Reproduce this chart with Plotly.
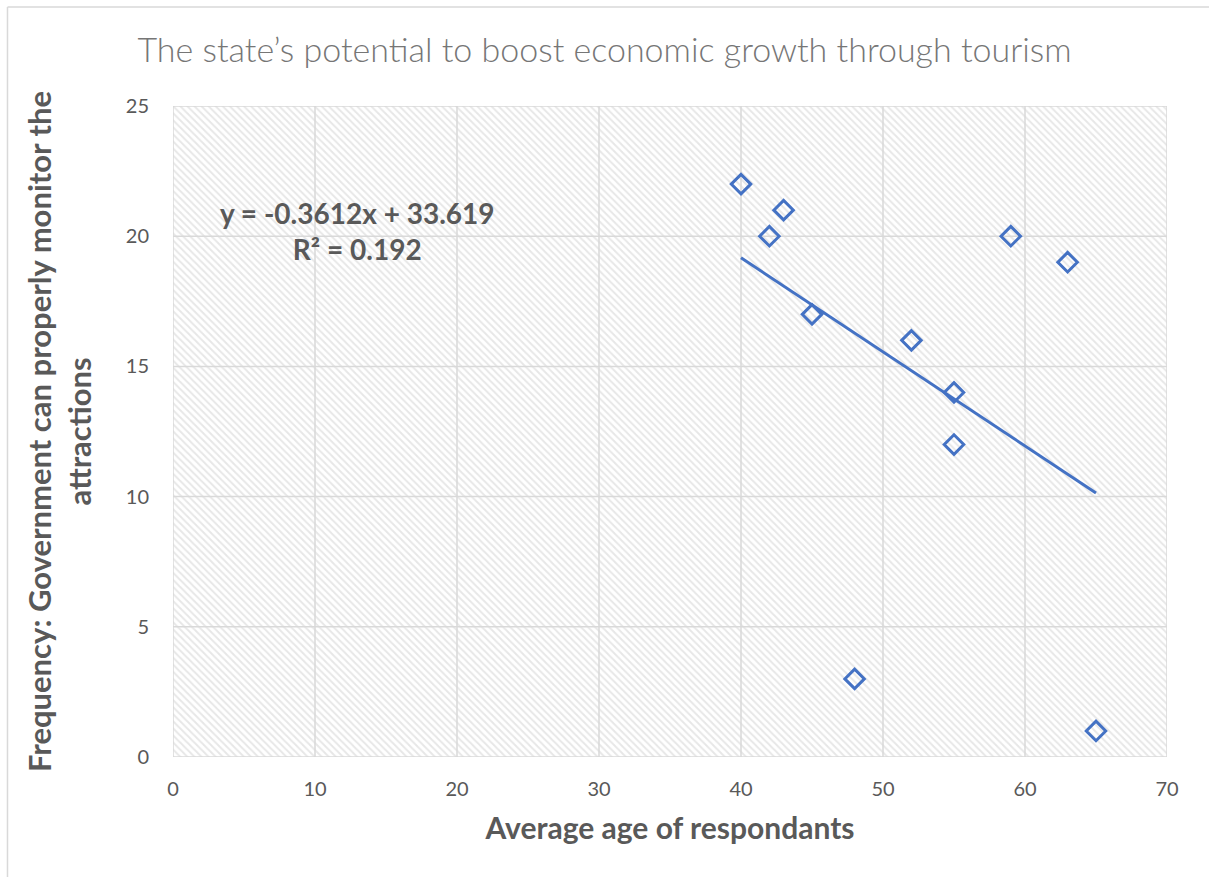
import numpy as np
import plotly.graph_objects as go

# Survey data: average respondent age vs. frequency of agreement
ages = [40, 42, 43, 45, 48, 52, 55, 55, 59, 63, 65]
frequency = [22, 20, 21, 17, 3, 16, 14, 12, 20, 19, 1]

x_ticks = [0, 10, 20, 30, 40, 50, 60, 70]
y_ticks = [0, 5, 10, 15, 20, 25]

title_text = "The state’s potential to boost economic growth through tourism"
x_title = "Average age of respondants"
y_title = "Frequency: Government can properly monitor the<br>attractions"

BLUE = "#4472C4"
GRID = "#d9d9d9"
TEXT = "#595959"
FONT = "Lato, 'Open Sans', sans-serif"

# Linear least-squares trendline
slope, intercept = np.polyfit(ages, frequency, 1)
pred = np.polyval([slope, intercept], ages)
ss_res = np.sum((np.array(frequency) - pred) ** 2)
ss_tot = np.sum((np.array(frequency) - np.mean(frequency)) ** 2)
r2 = 1 - ss_res / ss_tot
trend_x = [min(ages), max(ages)]
trend_y = [slope * v + intercept for v in trend_x]

x0, x1 = x_ticks[0], x_ticks[-1]
y0, y1 = y_ticks[0], y_ticks[-1]

fig = go.Figure()

# Hatched plot-area background
fig.add_trace(go.Scatter(
    x=[x0, x1, x1, x0, x0], y=[y0, y0, y1, y1, y0],
    mode="lines", line=dict(width=0), fill="toself",
    fillcolor="white",
    fillpattern=dict(shape="\\", fgcolor="#d0d0d0", bgcolor="white",
                     size=5, solidity=0.4),
    hoverinfo="skip", showlegend=False,
))

# Gridlines drawn over the hatching
gx, gy = [], []
for t in x_ticks:
    gx += [t, t, None]
    gy += [y0, y1, None]
for t in y_ticks:
    gx += [x0, x1, None]
    gy += [t, t, None]
fig.add_trace(go.Scatter(
    x=gx, y=gy, mode="lines", line=dict(color=GRID, width=1.5),
    hoverinfo="skip", showlegend=False,
))

# Trendline
fig.add_trace(go.Scatter(
    x=trend_x, y=trend_y, mode="lines",
    line=dict(color=BLUE, width=3), showlegend=False,
))

# Data points
fig.add_trace(go.Scatter(
    x=ages, y=frequency, mode="markers",
    marker=dict(symbol="diamond-open", size=15, color=BLUE,
                line=dict(color=BLUE, width=3)),
    showlegend=False,
))

fig.add_annotation(
    x=13, y=20.2, xref="x", yref="y",
    text=f"<b>y = {slope:.4f}x + {intercept:.3f}<br>R² = {r2:.3f}</b>",
    showarrow=False, align="center",
    font=dict(family=FONT, size=28, color=TEXT),
)

# Chart frame (top and left edges visible)
fig.add_shape(type="line", xref="paper", yref="paper",
              x0=-0.1665, x1=1.2, y0=1.152, y1=1.152,
              line=dict(color=GRID, width=1.5))
fig.add_shape(type="line", xref="paper", yref="paper",
              x0=-0.1665, x1=-0.1665, y0=-0.3, y1=1.152,
              line=dict(color=GRID, width=1.5))

fig.update_layout(
    width=1209, height=877,
    margin=dict(l=173, r=42, t=106, b=120),
    paper_bgcolor="white", plot_bgcolor="white",
    title=dict(text=title_text, x=0.5, xref="container", xanchor="center",
               y=1 - 50 / 877, yanchor="middle",
               font=dict(family=FONT, size=34, color="#767676", weight=300)),
    font=dict(family=FONT, color=TEXT),
)
fig.update_xaxes(
    range=[x0, x1], tickvals=x_ticks, showgrid=False, zeroline=False,
    showline=False, ticks="", ticklabelstandoff=18,
    tickfont=dict(family=FONT, size=20, color=TEXT),
    title=dict(text=f"<b>{x_title}</b>", standoff=18,
               font=dict(family=FONT, size=30, color=TEXT)),
)
fig.update_yaxes(
    range=[y0, y1], tickvals=y_ticks, showgrid=False, zeroline=False,
    showline=False, ticks="", ticklabelstandoff=23,
    tickfont=dict(family=FONT, size=20, color=TEXT),
    title=dict(text=f"<b>{y_title}</b>", standoff=24,
               font=dict(family=FONT, size=31, color=TEXT)),
)

fig.write_html("out.html")
